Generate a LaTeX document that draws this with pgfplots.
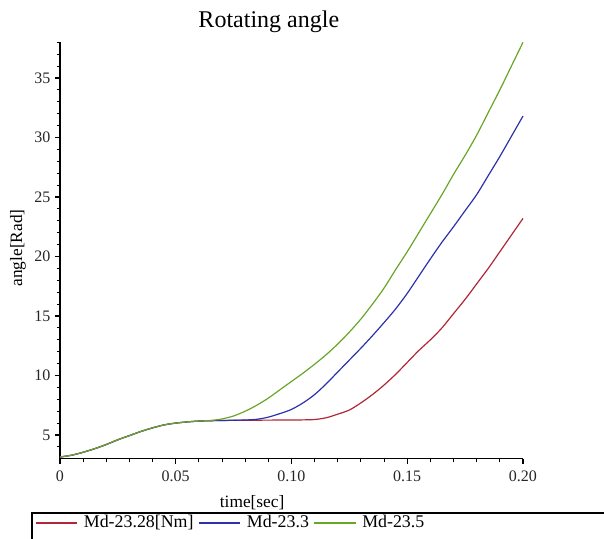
\documentclass[border=0pt]{standalone}
\usepackage{pgfplots}
\pgfplotsset{compat=1.18}
\usepackage{fontspec}
\setmainfont{Liberation Serif}
\definecolor{cred}{RGB}{175,40,55}
\definecolor{cblue}{RGB}{45,50,170}
\definecolor{cgreen}{RGB}{105,165,40}
\begin{document}
\begin{tikzpicture}
\begin{axis}[
  scale only axis,
  width=347.25pt, height=312.4pt,
  xmin=0, xmax=0.2, ymin=3, ymax=38,
  axis lines=left,
  axis line style={-, line width=1pt},
  xtick={0,0.05,0.10,0.15,0.20},
  xticklabels={0,0.05,0.10,0.15,0.20},
  ytick={5,10,15,20,25,30,35},
  minor xtick={0.01,0.02,0.03,0.04,0.06,0.07,0.08,0.09,0.11,0.12,0.13,0.14,0.16,0.17,0.18,0.19},
  minor ytick={4,6,7,8,9,11,12,13,14,16,17,18,19,21,22,23,24,26,27,28,29,31,32,33,34,36,37,38},
  tick align=outside,
  major tick length=3.75pt, minor tick length=2.25pt,
  tick style={black, line width=0.8pt},
  tick label style={font=\fontsize{12}{14}\selectfont, text=black!85},
  /pgf/number format/assume math mode=true,
  xticklabel style={yshift=-2pt},
  title={Rotating angle},
  every axis title shift=0pt,
  title style={font=\fontsize{18}{21}\selectfont, at={(axis description cs:0.451,1.05)}, anchor=center},
  xlabel={time[sec]},
  xlabel style={font=\fontsize{13}{15}\selectfont, at={(axis description cs:0.415,-0.105)}, anchor=center},
  ylabel={angle[Rad]},
  ylabel style={font=\fontsize{13}{15}\selectfont, at={(axis description cs:-0.0907,0.506)}, anchor=center, rotate=0},
  legend columns=3,
  legend style={draw=none, fill=none, at={(axis description cs:-0.0555,-0.153)}, anchor=west,
    inner sep=1pt,
    font=\fontsize{13.4}{15}\selectfont,
    /tikz/every odd column/.append style={column sep=3pt},
    /tikz/every even column/.append style={column sep=2pt}},
  clip=false,
]
\addlegendimage{legend image code/.code={\node[inner sep=0pt, minimum width=31pt, minimum height=1.3pt, draw=none, fill=cred, anchor=west] at (0pt,0pt) {};}}
\addlegendentry{Md-23.28[Nm]}
\addlegendimage{legend image code/.code={\node[inner sep=0pt, minimum width=31pt, minimum height=1.3pt, draw=none, fill=cblue, anchor=west] at (0pt,0pt) {};}}
\addlegendentry{Md-23.3}
\addlegendimage{legend image code/.code={\node[inner sep=0pt, minimum width=31pt, minimum height=1.3pt, draw=none, fill=cgreen, anchor=west] at (0pt,0pt) {};}}
\addlegendentry{Md-23.5}
\addplot[color=cred, line width=0.9pt, smooth, forget plot] coordinates {
(0,3.15)(0.005,3.3)(0.01,3.55)(0.015,3.85)(0.02,4.2)(0.025,4.6)(0.03,4.95)(0.035,5.3)(0.04,5.6)(0.045,5.85)(0.05,6.0)(0.055,6.1)(0.06,6.17)(0.065,6.2)(0.07,6.22)(0.08,6.24)(0.09,6.25)(0.10,6.26)(0.105,6.27)(0.11,6.3)(0.115,6.45)(0.12,6.75)(0.125,7.1)(0.13,7.7)(0.135,8.4)(0.14,9.2)(0.145,10.1)(0.15,11.1)(0.155,12.1)(0.16,13.0)(0.165,14.0)(0.17,15.2)(0.175,16.4)(0.18,17.7)(0.185,19.0)(0.19,20.4)(0.195,21.8)(0.20,23.2)
};
\addplot[color=cblue, line width=0.9pt, smooth, forget plot] coordinates {
(0,3.15)(0.005,3.3)(0.01,3.55)(0.015,3.85)(0.02,4.2)(0.025,4.6)(0.03,4.95)(0.035,5.3)(0.04,5.6)(0.045,5.85)(0.05,6.0)(0.055,6.1)(0.06,6.17)(0.065,6.2)(0.07,6.22)(0.075,6.24)(0.08,6.26)(0.085,6.32)(0.09,6.5)(0.095,6.8)(0.10,7.15)(0.105,7.7)(0.11,8.4)(0.115,9.3)(0.12,10.3)(0.125,11.3)(0.13,12.3)(0.135,13.35)(0.14,14.45)(0.145,15.6)(0.15,16.9)(0.155,18.35)(0.16,19.8)(0.165,21.2)(0.17,22.5)(0.175,23.85)(0.18,25.2)(0.185,26.8)(0.19,28.4)(0.195,30.1)(0.20,31.8)
};
\addplot[color=cgreen, line width=0.9pt, smooth, forget plot] coordinates {
(0,3.15)(0.005,3.3)(0.01,3.55)(0.015,3.85)(0.02,4.2)(0.025,4.6)(0.03,4.95)(0.035,5.3)(0.04,5.6)(0.045,5.85)(0.05,6.0)(0.055,6.1)(0.06,6.17)(0.065,6.22)(0.07,6.35)(0.075,6.6)(0.08,7.0)(0.085,7.5)(0.09,8.1)(0.095,8.8)(0.10,9.5)(0.105,10.2)(0.11,10.95)(0.115,11.75)(0.12,12.65)(0.125,13.65)(0.13,14.75)(0.135,16.0)(0.14,17.35)(0.145,18.9)(0.15,20.4)(0.155,22.0)(0.16,23.6)(0.165,25.2)(0.17,26.9)(0.175,28.5)(0.18,30.2)(0.185,32.1)(0.19,34.0)(0.195,36.0)(0.20,38.0)
};
\end{axis}
\draw[line width=1.2pt] (-21pt,-70pt) -- (-21pt,-40.65pt) -- (420pt,-40.65pt);
\pgfresetboundingbox
\useasboundingbox (-45pt,-60.15pt) rectangle (408pt,344.1pt);
\end{tikzpicture}
\end{document}
